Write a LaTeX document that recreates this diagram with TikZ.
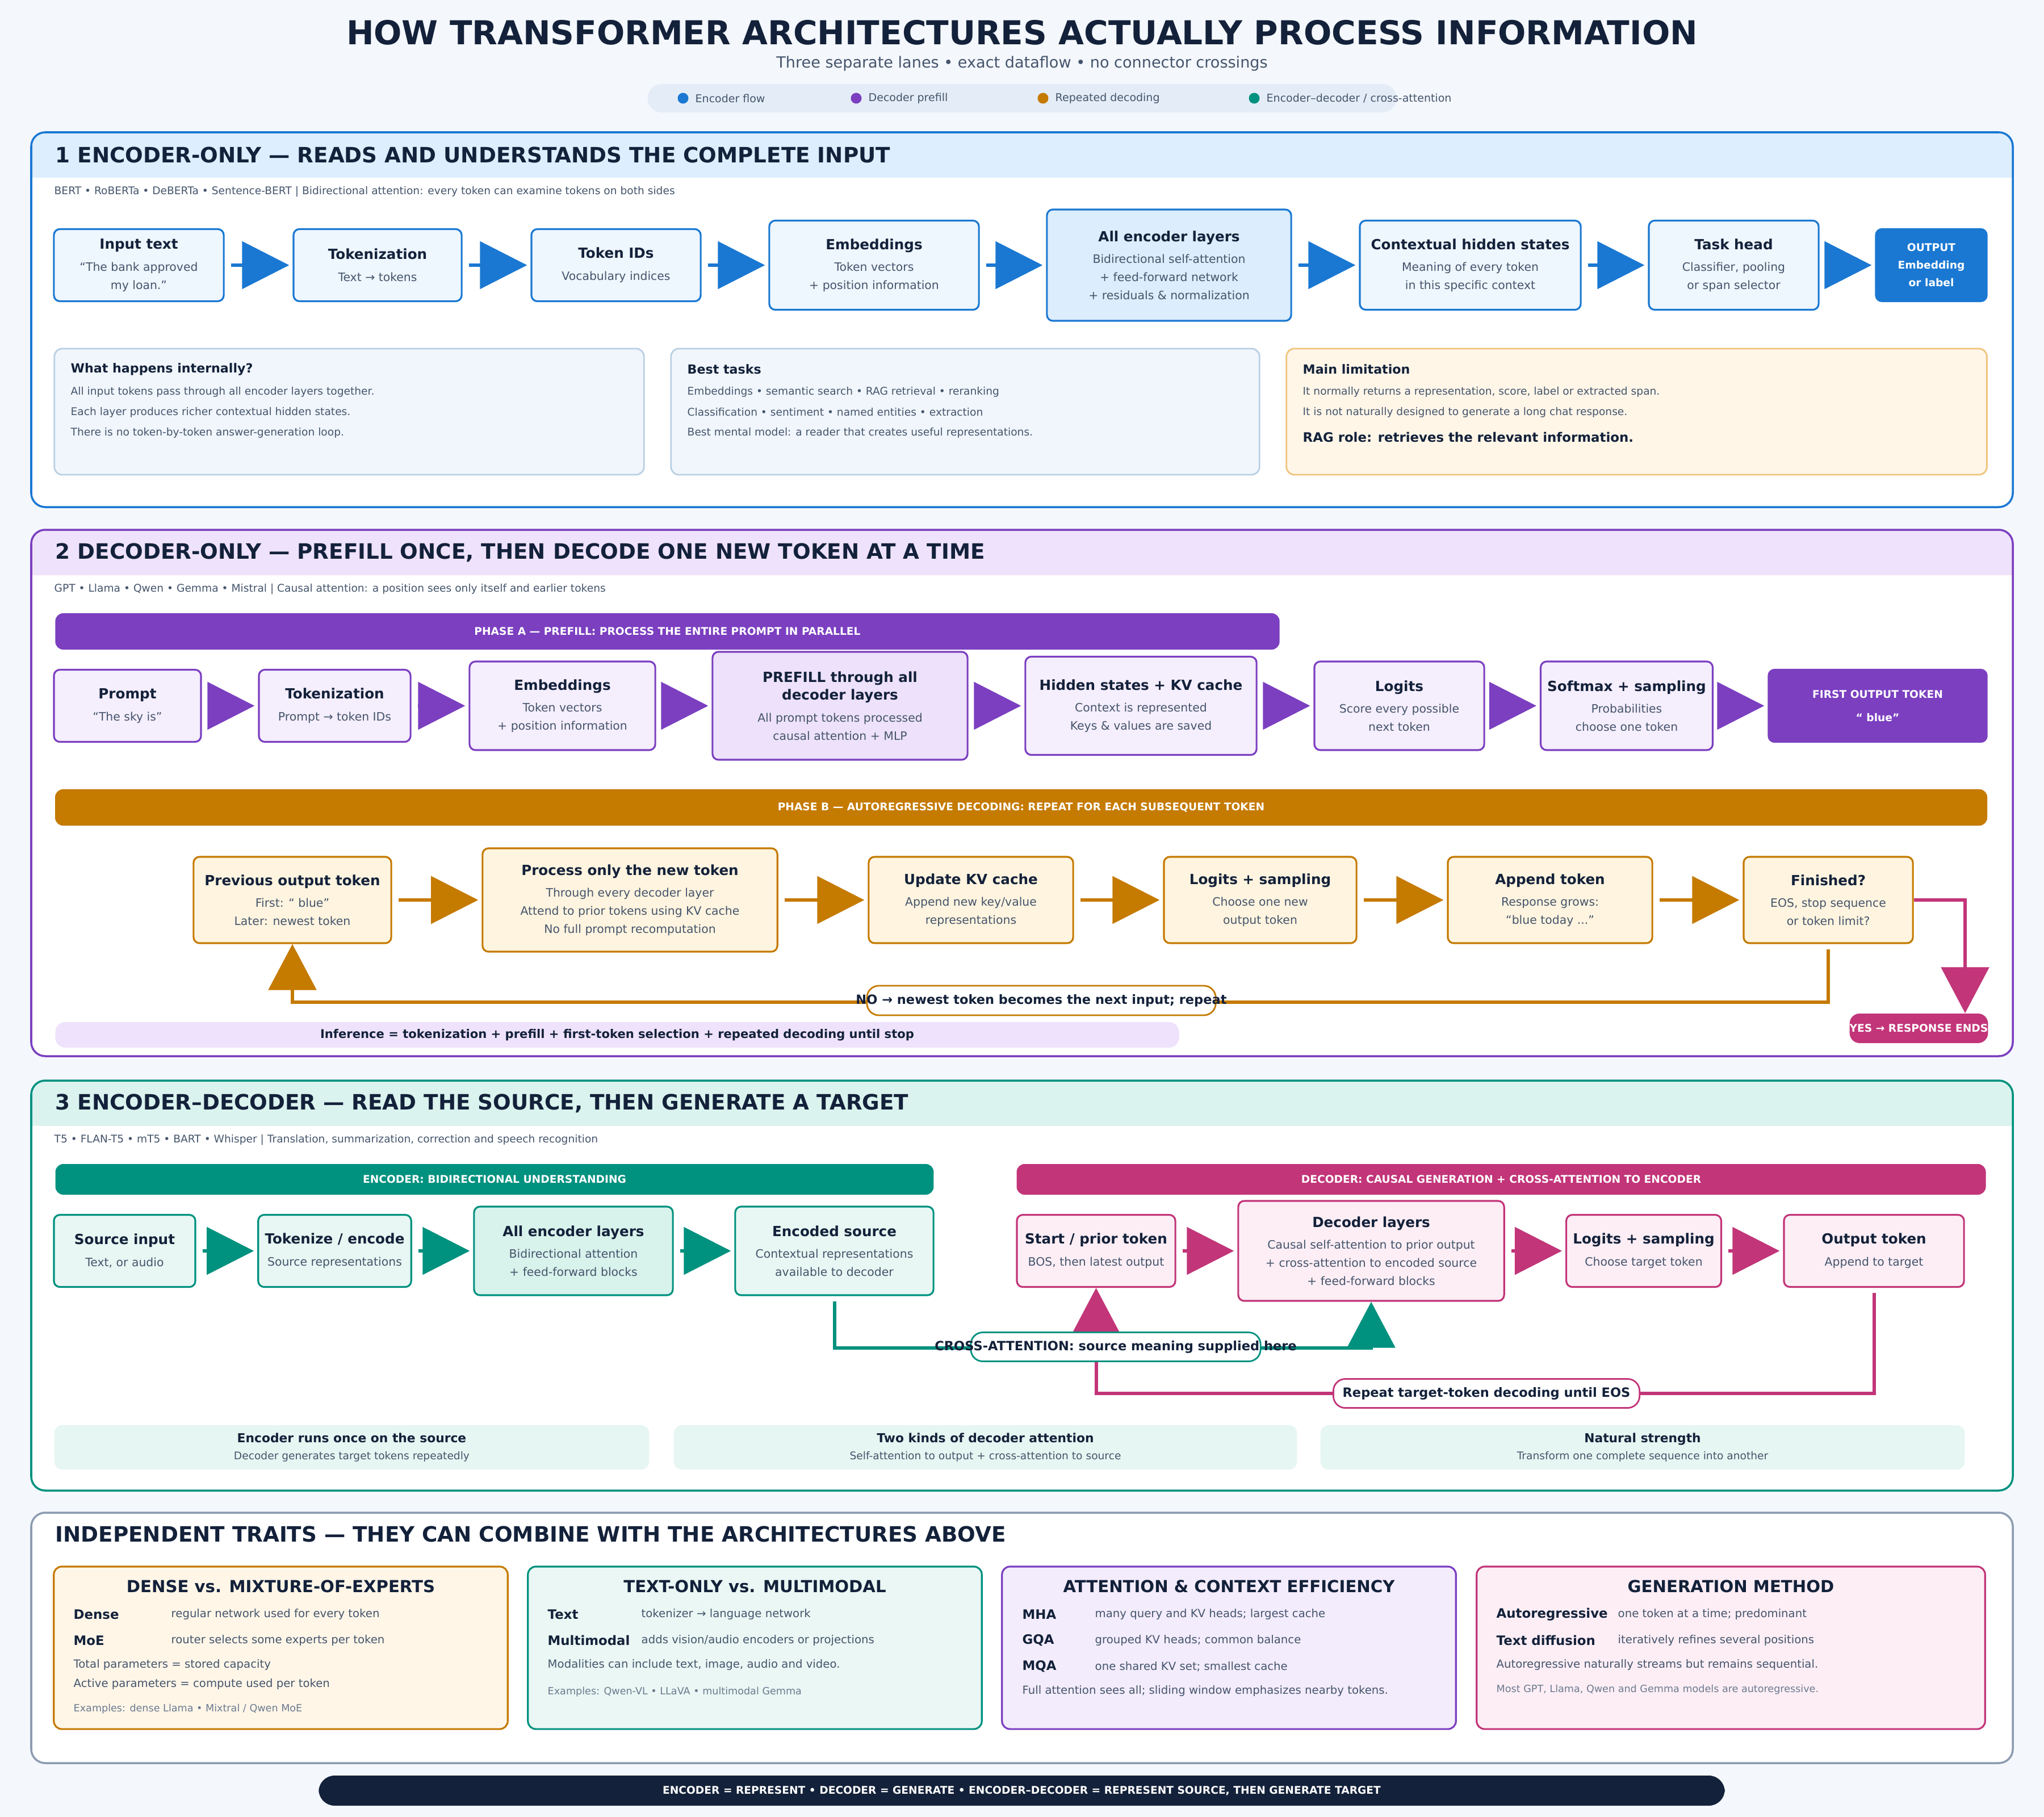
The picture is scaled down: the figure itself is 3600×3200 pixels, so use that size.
\documentclass[tikz,border=0pt]{standalone}
\usepackage{fontspec}
\setmainfont{DejaVu Sans}
\usetikzlibrary{arrows.meta}

\definecolor{page}{HTML}{F4F7FC}
\definecolor{ink}{HTML}{13213A}
\definecolor{slate}{HTML}{45556C}
\definecolor{mute}{HTML}{6B7A8F}
\definecolor{pill}{HTML}{E4EDF7}
\definecolor{encB}{HTML}{1A78D2}
\definecolor{encFill}{HTML}{EEF6FE}
\definecolor{encDeep}{HTML}{DCEDFD}
\definecolor{encHead}{HTML}{DDEEFE}
\definecolor{encLine}{HTML}{B9D0E4}
\definecolor{encInfo}{HTML}{F1F6FC}
\definecolor{decP}{HTML}{7B3FC0}
\definecolor{decFill}{HTML}{F5EEFD}
\definecolor{decDeep}{HTML}{EDE1FB}
\definecolor{decHead}{HTML}{EFE2FC}
\definecolor{repO}{HTML}{C57A00}
\definecolor{repFill}{HTML}{FFF4DF}
\definecolor{limLine}{HTML}{F0C47C}
\definecolor{limFill}{HTML}{FFF6E8}
\definecolor{xaT}{HTML}{00917F}
\definecolor{xaFill}{HTML}{E8F7F3}
\definecolor{xaDeep}{HTML}{D8F2EC}
\definecolor{xaHead}{HTML}{DAF3EE}
\definecolor{xaSoft}{HTML}{E6F6F2}
\definecolor{xaTrait}{HTML}{EAF7F4}
\definecolor{genM}{HTML}{C23579}
\definecolor{genFill}{HTML}{FDEEF5}
\definecolor{attFill}{HTML}{F3ECFC}
\definecolor{laneG}{HTML}{8C9CB0}
\definecolor{navy}{HTML}{13213A}

% fonts
\newcommand{\ttlf}{\fontsize{16.5}{19}\selectfont\bfseries}
\newcommand{\subtf}{\fontsize{7.7}{9}\selectfont}
\newcommand{\legf}{\fontsize{5.4}{6.5}\selectfont}
\newcommand{\lanef}{\fontsize{10.6}{12.5}\selectfont\bfseries}
\newcommand{\capf}{\fontsize{5.3}{6.4}\selectfont}
\newcommand{\blkt}[1]{{\fontsize{7}{9}\selectfont\bfseries\color{ink}#1}\\[2pt]}
\newcommand{\subf}{\fontsize{5.8}{9}\selectfont}
\newcommand{\outf}{\fontsize{5.3}{8.8}\selectfont\bfseries}
\newcommand{\barf}{\fontsize{5.3}{6.4}\selectfont\bfseries}
\newcommand{\ihf}{\fontsize{6.3}{7.5}\selectfont\bfseries}
\newcommand{\ibf}{\fontsize{5.3}{6.4}\selectfont}
\newcommand{\tagf}{\fontsize{6.4}{7.5}\selectfont\bfseries}
\newcommand{\infb}{\fontsize{6}{7.2}\selectfont\bfseries}
\newcommand{\sbh}{\fontsize{6.2}{7.5}\selectfont\bfseries\color{ink}}
\newcommand{\sbf}{\fontsize{5.3}{7.5}\selectfont}
\newcommand{\trh}{\fontsize{8.3}{10}\selectfont\bfseries}
\newcommand{\trk}{\fontsize{6.5}{7.8}\selectfont\bfseries}
\newcommand{\trd}{\fontsize{5.6}{6.7}\selectfont}
\newcommand{\trx}{\fontsize{5}{6}\selectfont}

% lane: top, bottom, border colour, header fill
\newcommand{\lane}[4]{%
  \begin{scope}
    \clip[rounded corners=7pt] (55,#1) rectangle (3545,#2);
    \fill[white] (55,#1) rectangle (3545,#2);
    \fill[#4] (55,#1) rectangle (3545,#1+80);
  \end{scope}
  \draw[#3, line width=1pt, rounded corners=7pt] (55,#1) rectangle (3545,#2);}

\begin{document}
\begin{tikzpicture}[x=0.01cm, y=-0.01cm,
  blk/.style={draw, rounded corners=3pt, line width=0.9pt, align=center, font=\subf, text=slate},
  eblk/.style={blk, draw=encB, fill=encFill},
  pblk/.style={blk, draw=decP, fill=decFill},
  oblk/.style={blk, draw=repO, fill=repFill},
  tblk/.style={blk, draw=xaT, fill=xaFill},
  mblk/.style={blk, draw=genM, fill=genFill},
  wh/.style 2 args={minimum width=#1cm, minimum height=#2cm},
  bar/.style={rounded corners=4pt, text=white, font=\barf},
  arr/.style={line width=1.7pt, shorten <=0.11cm, shorten >=0.06cm, -{Triangle[length=0.83cm,width=0.83cm]}},
  back/.style={line width=1.7pt, shorten <=0.09cm, -{Triangle[length=0.81cm,width=0.84cm]}},
  tag/.style={draw, fill=white, line width=0.8pt, rounded corners=6pt, font=\tagf, text=ink},
  txt/.style={anchor=west, inner sep=0pt},
  info/.style={rounded corners=4pt, line width=0.8pt},
  trait/.style={rounded corners=4pt, line width=0.9pt, wh={7.99}{2.86}}]
\useasboundingbox (0,0) rectangle (3600,3200);
\fill[page] (0,0) rectangle (3600,3200);

% title and legend
\node[font=\ttlf, text=ink] (title) at (1800,57) {HOW TRANSFORMER ARCHITECTURES ACTUALLY PROCESS INFORMATION};
\node[font=\subtf, text=slate] (subtitle) at (1800,112) {Three separate lanes • exact dataflow • no connector crossings};
\node[fill=pill, rounded corners=7pt, wh={13.18}{0.50}] (legend) at (1800,173) {};
\foreach \x/\c/\t [count=\i] in {1203/encB/{Encoder flow}, 1508/decP/{Decoder prefill}, 1837/repO/{Repeated decoding}, 2209/xaT/{Encoder–decoder / cross-attention}}{
  \fill[\c] (\x,173) circle (0.095cm);
  \node[txt, font=\legf, text=slate] (lg\i) at (\x+21,173) {\t};
}

%% 1 encoder-only
\lane{233}{893}{encB}{encHead}
\node[txt, font=\lanef, text=ink] (t1) at (97,273) {1 ENCODER-ONLY — READS AND UNDERSTANDS THE COMPLETE INPUT};
\node[txt, font=\capf, text=slate] (c1) at (95,338) {BERT • RoBERTa • DeBERTa • Sentence-BERT | Bidirectional attention: every token can examine tokens on both sides};

\node[eblk, wh={2.99}{1.27}] (in1) at (244.5,467) {\blkt{Input text}“The bank approved\\my loan.”};
\node[eblk, wh={2.96}{1.27}] (tok1) at (665,467) {\blkt{Tokenization}Text → tokens};
\node[eblk, wh={2.98}{1.27}] (ids1) at (1085,467) {\blkt{Token IDs}Vocabulary indices};
\node[eblk, wh={3.69}{1.57}] (emb1) at (1539.5,467) {\blkt{Embeddings}Token vectors\\+ position information};
\node[eblk, fill=encDeep, wh={4.30}{1.96}] (enc1) at (2059,467) {\blkt{All encoder layers}Bidirectional self-attention\\+ feed-forward network\\+ residuals \& normalization};
\node[eblk, wh={3.89}{1.57}] (hid1) at (2589.5,467) {\blkt{Contextual hidden states}Meaning of every token\\in this specific context};
\node[eblk, wh={2.99}{1.57}] (head1) at (3053.5,467) {\blkt{Task head}Classifier, pooling\\or span selector};
\node[blk, draw=encB, fill=encB, text=white, font=\outf, wh={1.95}{1.27}] (out1) at (3401.5,467) {OUTPUT\\Embedding\\or label};
\foreach \a/\b in {in1/tok1,tok1/ids1,ids1/emb1,emb1/enc1,enc1/hid1,hid1/head1,head1/out1}
  \draw[arr, encB] (\a.east) -- (\b.west);

\node[info, draw=encLine, fill=encInfo, wh={10.38}{2.22}] (ib1) at (615,725) {};
\node[info, draw=encLine, fill=encInfo, wh={10.36}{2.22}] (ib2) at (1700,725) {};
\node[info, draw=limLine, fill=limFill, wh={12.33}{2.22}] (ib3) at (2882.5,725) {};
\node[txt, font=\ihf, text=ink] (ib1h) at (124,650) {What happens internally?};
\foreach \t [count=\i] in {{All input tokens pass through all encoder layers together.}, {Each layer produces richer contextual hidden states.}, {There is no token-by-token answer-generation loop.}}
  \node[txt, font=\ibf, text=slate] (ib1l\i) at (124,{654+36*\i}) {\t};
\node[txt, font=\ihf, text=ink] (ib2h) at (1210,650) {Best tasks};
\foreach \t [count=\i] in {{Embeddings • semantic search • RAG retrieval • reranking}, {Classification • sentiment • named entities • extraction}, {Best mental model: a reader that creates useful representations.}}
  \node[txt, font=\ibf, text=slate] (ib2l\i) at (1210,{654+36*\i}) {\t};
\node[txt, font=\ihf, text=ink] (ib3h) at (2294,650) {Main limitation};
\foreach \t [count=\i] in {{It normally returns a representation, score, label or extracted span.}, {It is not naturally designed to generate a long chat response.}}
  \node[txt, font=\ibf, text=slate] (ib3l\i) at (2294,{654+36*\i}) {\t};
\node[txt, font=\fontsize{6.5}{7.8}\selectfont\bfseries, text=ink] (rag) at (2294,770) {RAG role: retrieves the relevant information.};

%% 2 decoder-only
\lane{933}{1860}{decP}{decHead}
\node[txt, font=\lanef, text=ink] (t2) at (97,973) {2 DECODER-ONLY — PREFILL ONCE, THEN DECODE ONE NEW TOKEN AT A TIME};
\node[txt, font=\capf, text=slate] (c2) at (95,1038) {GPT • Llama • Qwen • Gemma • Mistral | Causal attention: a position sees only itself and earlier tokens};

\node[bar, fill=decP, wh={21.55}{0.64}] (phA) at (1175.5,1112) {PHASE A — PREFILL: PROCESS THE ENTIRE PROMPT IN PARALLEL};
\node[pblk, wh={2.59}{1.27}] (prm) at (224.5,1243) {\blkt{Prompt}“The sky is”};
\node[pblk, wh={2.67}{1.27}] (tok2) at (589.5,1243) {\blkt{Tokenization}Prompt → token IDs};
\node[pblk, wh={3.27}{1.56}] (emb2) at (990.5,1243) {\blkt{Embeddings}Token vectors\\+ position information};
\node[pblk, fill=decDeep, wh={4.49}{1.90}] (pre2) at (1479.5,1243) {{\fontsize{7}{9}\selectfont\bfseries\color{ink}PREFILL through all}\\\blkt{decoder layers}All prompt tokens processed\\causal attention + MLP};
\node[pblk, wh={4.07}{1.73}] (hid2) at (2009.5,1243) {\blkt{Hidden states + KV cache}Context is represented\\Keys \& values are saved};
\node[pblk, wh={2.99}{1.56}] (log2) at (2464.5,1243) {\blkt{Logits}Score every possible\\next token};
\node[pblk, wh={3.00}{1.56}] (smx2) at (2865,1243) {\blkt{Softmax + sampling}Probabilities\\choose one token};
\node[blk, draw=decP, fill=decP, text=white, font=\outf, wh={3.84}{1.27}] (fst2) at (3307,1243) {FIRST OUTPUT TOKEN\\[3pt]“ blue”};
\foreach \a/\b in {prm/tok2,tok2/emb2,emb2/pre2,pre2/hid2,hid2/log2,log2/smx2,smx2/fst2}
  \draw[arr, decP] (\a.east) -- (\b.west);

\node[bar, fill=repO, wh={34.01}{0.64}] (phB) at (1798.5,1422) {PHASE B — AUTOREGRESSIVE DECODING: REPEAT FOR EACH SUBSEQUENT TOKEN};
\node[oblk, wh={3.48}{1.52}] (prev) at (515,1585) {\blkt{Previous output token}First: “ blue”\\Later: newest token};
\node[oblk, wh={5.19}{1.82}] (proc) at (1109.5,1585) {\blkt{Process only the new token}Through every decoder layer\\Attend to prior tokens using KV cache\\No full prompt recomputation};
\node[oblk, wh={3.60}{1.52}] (kv) at (1710,1585) {\blkt{Update KV cache}Append new key/value\\representations};
\node[oblk, wh={3.39}{1.52}] (lgs) at (2219.5,1585) {\blkt{Logits + sampling}Choose one new\\output token};
\node[oblk, wh={3.60}{1.52}] (app) at (2730,1585) {\blkt{Append token}Response grows:\\“blue today ...”};
\node[oblk, wh={2.98}{1.52}] (fin) at (3220,1585) {\blkt{Finished?}EOS, stop sequence\\or token limit?};
\foreach \a/\b in {prev/proc,proc/kv,kv/lgs,lgs/app,app/fin}
  \draw[arr, repO] (\a.east) -- (\b.west);

% loop back and exit
\coordinate (nob) at (0,1765);
\draw[back, repO] (fin.south) -- (fin.south |- nob) -| (prev.south);
\node[tag, draw=repO, wh={6.14}{0.52}] (nolbl) at (1834,1762) {\makebox[0pt]{NO → newest token becomes the next input; repeat}};
\node[bar, fill=genM, rounded corners=5pt, inner sep=0pt, wh={2.39}{0.52}] (yes) at (3379.5,1811) {YES → RESPONSE ENDS};
\coordinate (yesx) at (3461,1585);
\draw[genM, line width=1.7pt, -{Triangle[length=0.81cm,width=0.84cm]}] (fin.east) -- (yesx) -- (yesx |- yes.north);
\node[fill=decHead, rounded corners=5pt, wh={19.78}{0.45}, font=\infb, text=ink] (infer) at (1087,1822.5) {Inference = tokenization + prefill + first-token selection + repeated decoding until stop};

%% 3 encoder-decoder
\lane{1903}{2625}{xaT}{xaHead}
\node[txt, font=\lanef, text=ink] (t3) at (97,1943) {3 ENCODER–DECODER — READ THE SOURCE, THEN GENERATE A TARGET};
\node[txt, font=\capf, text=slate] (c3) at (95,2008) {T5 • FLAN-T5 • mT5 • BART • Whisper | Translation, summarization, correction and speech recognition};

\node[bar, fill=xaT, wh={15.46}{0.54}] (encbar) at (871,2077) {ENCODER: BIDIRECTIONAL UNDERSTANDING};
\node[bar, fill=genM, wh={17.06}{0.54}] (decbar) at (2644,2077) {DECODER: CAUSAL GENERATION + CROSS-ATTENTION TO ENCODER};
\node[tblk, wh={2.49}{1.27}] (src) at (219.5,2203) {\blkt{Source input}Text, or audio};
\node[tblk, wh={2.67}{1.27}] (tke) at (589.5,2203) {\blkt{Tokenize / encode}Source representations};
\node[tblk, fill=xaDeep, wh={3.50}{1.56}] (enc3) at (1010,2203) {\blkt{All encoder layers}Bidirectional attention\\+ feed-forward blocks};
\node[tblk, wh={3.49}{1.56}] (eso) at (1469.5,2203) {\blkt{Encoded source}Contextual representations\\available to decoder};
\node[mblk, wh={2.79}{1.27}] (sta) at (1930.5,2203) {\blkt{Start / prior token}BOS, then latest output};
\node[mblk, wh={4.68}{1.76}] (dec3) at (2415,2203) {\blkt{Decoder layers}Causal self-attention to prior output\\+ cross-attention to encoded source\\+ feed-forward blocks};
\node[mblk, wh={2.68}{1.27}] (lgt3) at (2895,2203) {\blkt{Logits + sampling}Choose target token};
\node[mblk, wh={3.17}{1.27}] (otk) at (3300.5,2203) {\blkt{Output token}Append to target};
\foreach \a/\b in {src/tke,tke/enc3,enc3/eso}
  \draw[arr, xaT] (\a.east) -- (\b.west);
\foreach \a/\b in {sta/dec3,dec3/lgt3,lgt3/otk}
  \draw[arr, genM] (\a.east) -- (\b.west);

\coordinate (rpy) at (0,2454);
\coordinate (cay) at (0,2374);
\draw[back, genM] (otk.south) -- (otk.south |- rpy) -| (sta.south);
\draw[back, xaT] (eso.south) -- (eso.south |- cay) -| (dec3.south);
\node[tag, draw=xaT, wh={5.10}{0.51}] (xlbl) at (1965,2372) {\makebox[0pt]{CROSS-ATTENTION: source meaning supplied here}};
\node[tag, draw=genM, wh={5.39}{0.51}] (rlbl) at (2618,2454) {Repeat target-token decoding until EOS};

\node[fill=xaSoft, rounded corners=4pt, wh={10.47}{0.78}, align=center, font=\sbf, text=slate] (n1) at (619.5,2549) {{\sbh Encoder runs once on the source}\\[1pt]Decoder generates target tokens repeatedly};
\node[fill=xaSoft, rounded corners=4pt, wh={10.97}{0.78}, align=center, font=\sbf, text=slate] (n2) at (1735.5,2549) {{\sbh Two kinds of decoder attention}\\[1pt]Self-attention to output + cross-attention to source};
\node[fill=xaSoft, rounded corners=4pt, wh={11.34}{0.78}, align=center, font=\sbf, text=slate] (n3) at (2893,2549) {{\sbh Natural strength}\\[1pt]Transform one complete sequence into another};

%% independent traits
\lane{2664}{3105}{laneG}{white}
\node[txt, font=\lanef, text=ink] (t4) at (97,2702) {INDEPENDENT TRAITS — THEY CAN COMBINE WITH THE ARCHITECTURES ABOVE};
\node[trait, draw=repO, fill=limFill] (tr1) at (494.5,2902) {};
\node[trait, draw=xaT, fill=xaTrait] (tr2) at (1329.5,2902) {};
\node[trait, draw=decP, fill=attFill] (tr3) at (2164.5,2902) {};
\node[trait, draw=genM, fill=genFill, wh={8.95}{2.86}] (tr4) at (3048.5,2902) {};
\node[font=\trh, text=ink] (tr1h) at (494.5,2794) {DENSE vs. MIXTURE-OF-EXPERTS};
\node[font=\trh, text=ink] (tr2h) at (1329.5,2794) {TEXT-ONLY vs. MULTIMODAL};
\node[font=\trh, text=ink] (tr3h) at (2164.5,2794) {ATTENTION \& CONTEXT EFFICIENCY};
\node[font=\trh, text=ink] (tr4h) at (3048.5,2794) {GENERATION METHOD};

\foreach \k/\d [count=\i] in {Dense/{regular network used for every token}, MoE/{router selects some experts per token}}{
  \node[txt, font=\trk, text=ink] (dk\i) at (129,{2797+46*\i}) {\k};
  \node[txt, font=\trd, text=slate] (dd\i) at (301,{2797+46*\i}) {\d};
}
\node[txt, font=\trd, text=slate] (dt1) at (129,2932) {Total parameters = stored capacity};
\node[txt, font=\trd, text=slate] (dt2) at (129,2966) {Active parameters = compute used per token};
\node[txt, font=\trx, text=mute] (dx) at (129,3010) {Examples: dense Llama • Mixtral / Qwen MoE};

\foreach \k/\d [count=\i] in {Text/{tokenizer → language network}, Multimodal/{adds vision/audio encoders or projections}}{
  \node[txt, font=\trk, text=ink] (mk\i) at (964,{2797+46*\i}) {\k};
  \node[txt, font=\trd, text=slate] (md\i) at (1129,{2797+46*\i}) {\d};
}
\node[txt, font=\trd, text=slate] (mt1) at (964,2932) {Modalities can include text, image, audio and video.};
\node[txt, font=\trx, text=mute] (mx) at (964,2980) {Examples: Qwen-VL • LLaVA • multimodal Gemma};

\foreach \k/\d [count=\i] in {MHA/{many query and KV heads; largest cache}, GQA/{grouped KV heads; common balance}, MQA/{one shared KV set; smallest cache}}{
  \node[txt, font=\trk, text=ink] (ak\i) at (1800,{2797+46*\i}) {\k};
  \node[txt, font=\trd, text=slate] (ad\i) at (1928,{2797+46*\i}) {\d};
}
\node[txt, font=\trd, text=slate] (at1) at (1800,2978) {Full attention sees all; sliding window emphasizes nearby tokens.};

\foreach \k/\d [count=\i] in {Autoregressive/{one token at a time; predominant}, {Text diffusion}/{iteratively refines several positions}}{
  \node[txt, font=\trk, text=ink] (gk\i) at (2635,{2797+46*\i}) {\k};
  \node[txt, font=\trd, text=slate] (gd\i) at (2849,{2797+46*\i}) {\d};
}
\node[txt, font=\trd, text=slate] (gt1) at (2635,2932) {Autoregressive naturally streams but remains sequential.};
\node[txt, font=\trx, text=mute] (gx) at (2635,2976) {Most GPT, Llama, Qwen and Gemma models are autoregressive.};

\node[fill=navy, rounded corners=8pt, wh={24.75}{0.53}, text=white, font=\barf] (sumbar) at (1799.5,3153.5) {ENCODER = REPRESENT • DECODER = GENERATE • ENCODER–DECODER = REPRESENT SOURCE, THEN GENERATE TARGET};
\end{tikzpicture}
\end{document}
